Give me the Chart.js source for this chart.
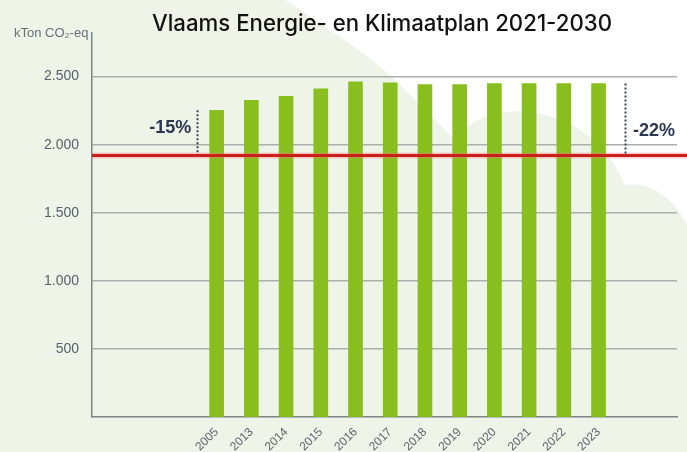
<!DOCTYPE html>
<html>
<head>
<meta charset="utf-8">
<script src="https://cdn.jsdelivr.net/npm/chart.js@4"></script>
<style>
html,body{margin:0;padding:0;background:#eef4e8;}
#wrap{width:687px;height:452px;position:relative;}
</style>
</head>
<body>
<div id="wrap"><canvas id="c" width="687" height="452"></canvas></div>
<script>
// ---- data ----
const categories = ['2005','2013','2014','2015','2016','2017','2018','2019','2020','2021','2022','2023'];
const emissions = [2252, 2326, 2355, 2410, 2461, 2454, 2441, 2441, 2449, 2449, 2449, 2449];
const yTickValues = [500, 1000, 1500, 2000, 2500];
const targetLevel = [1920];
const reductionLabels = ['-15%', '-22%'];
const reductionTops = [2252, 2450];
const titleText = 'Vlaams Energie- en Klimaatplan 2021-2030';
const yAxisTitle = 'kTon CO\u2082-eq';

// ---- layout helpers (positions in category-index units) ----
const X_MIN = -3.59, X_MAX = 13.26;
const reductionX = [-0.56, 11.76];

const bgPlugin = {
  id: 'bg',
  beforeDraw(chart) {
    const ctx = chart.ctx;
    ctx.save();
    ctx.fillStyle = '#eef4e8';
    ctx.fillRect(0, 0, chart.width, chart.height);
    ctx.fillStyle = '#ffffff';
    ctx.beginPath();
    ctx.moveTo(285, 0);
    ctx.bezierCurveTo(330, 30, 370, 55, 400, 85);
    ctx.bezierCurveTo(420, 105, 440, 125, 455, 140);
    ctx.bezierCurveTo(470, 118, 500, 108, 530, 112);
    ctx.bezierCurveTo(580, 118, 610, 150, 625, 185);
    ctx.bezierCurveTo(650, 180, 675, 200, 687, 225);
    ctx.lineTo(687, 0);
    ctx.closePath();
    ctx.fill();
    ctx.restore();
  }
};

const overlayPlugin = {
  id: 'overlay',
  afterDatasetsDraw(chart) {
    const ctx = chart.ctx;
    const xs = chart.scales.x, ys = chart.scales.y;
    const ca = chart.chartArea;
    ctx.save();
    // target line
    const yT = ys.getPixelForValue(targetLevel[0]);
    ctx.strokeStyle = 'rgba(230,120,120,0.35)';
    ctx.lineWidth = 6;
    ctx.beginPath(); ctx.moveTo(ca.left, yT); ctx.lineTo(chart.width, yT); ctx.stroke();
    ctx.strokeStyle = '#cc1f1c';
    ctx.lineWidth = 3;
    ctx.beginPath(); ctx.moveTo(ca.left, yT); ctx.lineTo(chart.width, yT); ctx.stroke();
    // reduction dotted lines
    ctx.strokeStyle = '#3a4560';
    ctx.lineWidth = 2;
    ctx.setLineDash([2, 2]);
    for (let i = 0; i < reductionX.length; i++) {
      const x = Math.round(xs.getPixelForValue(reductionX[i])) + 0.5;
      ctx.beginPath();
      ctx.moveTo(x, ys.getPixelForValue(reductionTops[i]));
      ctx.lineTo(x, yT - 2);
      ctx.stroke();
    }
    ctx.setLineDash([]);
    // labels
    ctx.fillStyle = '#2c3651';
    ctx.font = 'bold 18px "Liberation Sans Narrow", "Liberation Sans", sans-serif';
    ctx.textBaseline = 'middle';
    ctx.textAlign = 'right';
    ctx.fillText(reductionLabels[0], xs.getPixelForValue(reductionX[0]) - 6, 128);
    ctx.textAlign = 'left';
    ctx.fillText(reductionLabels[1], xs.getPixelForValue(reductionX[1]) + 8, 131);
    ctx.restore();
  },
  afterDraw(chart) {
    const ctx = chart.ctx;
    ctx.save();
    // title
    let size = 20;
    ctx.font = '500 ' + size + 'px Inter, "Open Sans", sans-serif';
    const w = ctx.measureText(titleText).width;
    size = size * 460 / w;
    ctx.font = '500 ' + size.toFixed(2) + 'px Inter, "Open Sans", sans-serif';
    ctx.fillStyle = '#111111';
    ctx.textAlign = 'center';
    ctx.textBaseline = 'alphabetic';
    ctx.fillText(titleText, 382, 31);
    // y axis title
    ctx.font = '13px "Liberation Sans Narrow", "Liberation Sans", sans-serif';
    ctx.fillStyle = '#67717a';
    ctx.textAlign = 'left';
    ctx.fillText(yAxisTitle, 14, 37);
    ctx.restore();
  }
};

new Chart(document.getElementById('c'), {
  type: 'bar',
  data: {
    datasets: [{
      data: categories.map((c, i) => ({ x: i, y: emissions[i] })),
      backgroundColor: '#88be1d',
      borderWidth: 0,
      barThickness: 14
    }]
  },
  options: {
    responsive: false,
    animation: false,
    devicePixelRatio: 1,
    layout: { padding: { top: 33, right: 10, left: 0, bottom: 0 } },
    plugins: { legend: { display: false }, tooltip: { enabled: false }, title: { display: false } },
    scales: {
      x: {
        type: 'linear',
        offset: false,
        min: X_MIN,
        max: X_MAX,
        afterFit(scale) { scale.height = 35; scale.paddingLeft = 0; scale.paddingRight = 0; },
        grid: { display: false, drawTicks: false, offset: false },
        border: { display: true, color: '#7d8285', width: 1.5 },
        ticks: {
          stepSize: 1,
          autoSkip: false,
          minRotation: 45,
          maxRotation: 45,
          padding: 8,
          color: '#5e6770',
          font: { family: '"Liberation Sans Narrow", "Liberation Sans", sans-serif', size: 12 },
          callback: (v) => (Number.isInteger(v) && v >= 0 && v < categories.length) ? categories[v] : ''
        }
      },
      y: {
        min: 0,
        max: 2820,
        afterFit(scale) { scale.width = 92; },
        afterBuildTicks(scale) {
          scale.ticks = yTickValues.map(v => ({ value: v }));
        },
        grid: { color: '#aab0ad', lineWidth: 1.5, drawTicks: false },
        border: { display: true, color: '#7d8285', width: 1.5 },
        ticks: {
          padding: 13,
          color: '#55616c',
          font: { family: '"Liberation Sans", sans-serif', size: 14 },
          callback: (v) => v >= 1000 ? Math.floor(v / 1000) + '.' + String(v % 1000).padStart(3, '0') : String(v)
        }
      }
    }
  },
  plugins: [bgPlugin, overlayPlugin]
});
</script>
</body>
</html>
